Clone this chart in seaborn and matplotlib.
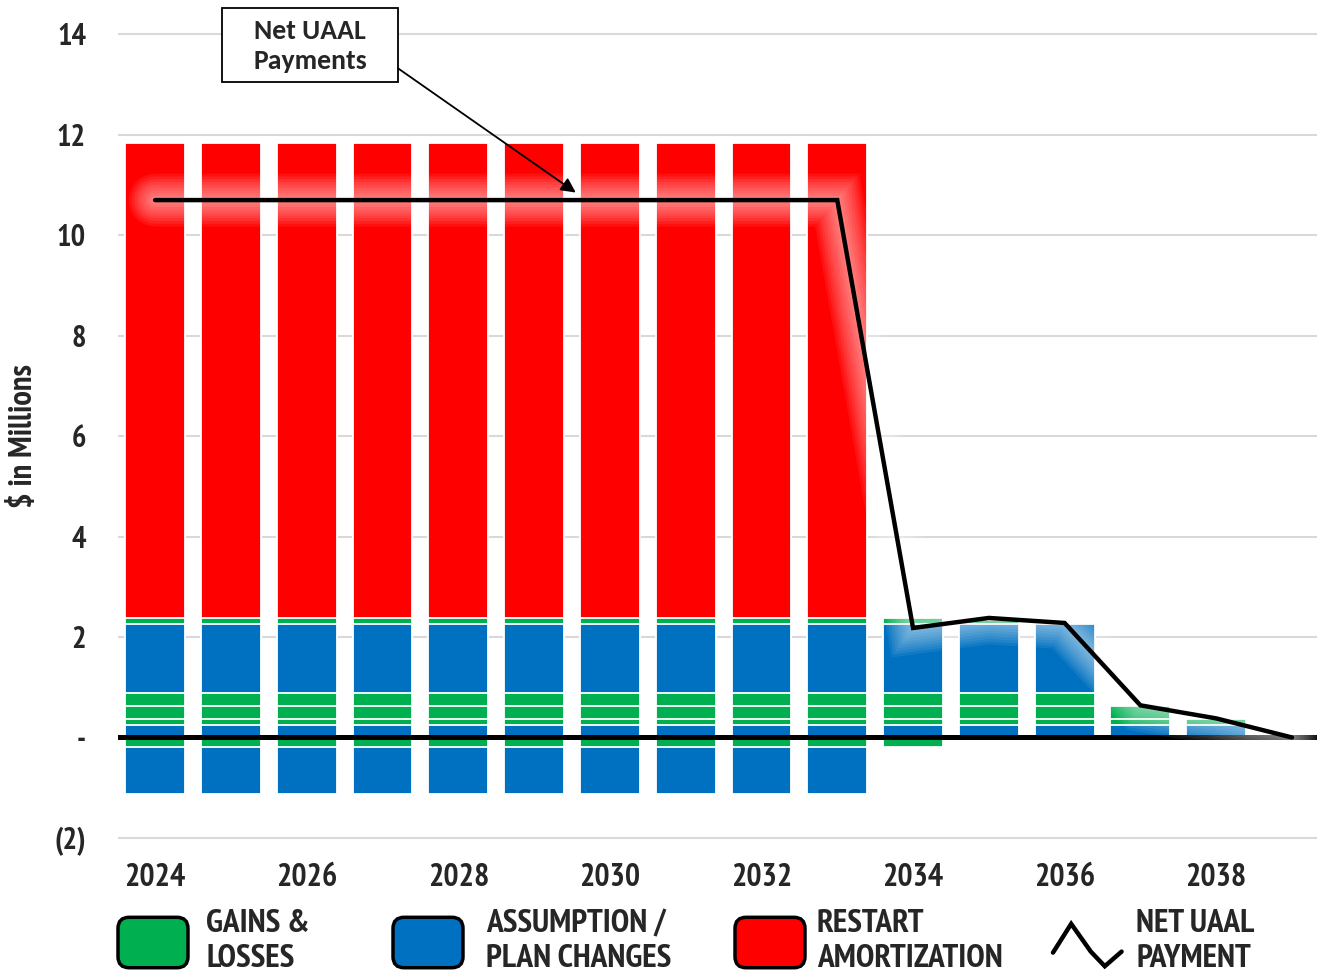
import numpy as np
import matplotlib
matplotlib.use('Agg')
import matplotlib.pyplot as plt
import matplotlib.patheffects as pe
from matplotlib.patches import Patch, FancyBboxPatch, Rectangle
from matplotlib.lines import Line2D
from matplotlib.legend_handler import HandlerPatch, HandlerBase
import seaborn as sns

sns.set_style('white')
NARROW = ['PT Sans Narrow', 'Liberation Sans', 'DejaVu Sans']
plt.rcParams['font.family'] = NARROW

# ---- data ($ millions) ----
years = [2024, 2025, 2026, 2027, 2028, 2029, 2030, 2031, 2032, 2033, 2034, 2035, 2036, 2037, 2038]
# positive stack, bottom to top
asm_base = [0.24, 0.24, 0.24, 0.24, 0.24, 0.24, 0.24, 0.24, 0.24, 0.24, 0.24, 0.24, 0.24, 0.24, 0.24]
gl_1 = [0.12, 0.12, 0.12, 0.12, 0.12, 0.12, 0.12, 0.12, 0.12, 0.12, 0.12, 0.12, 0.12, 0.12, 0.12]
gl_2 = [0.26, 0.26, 0.26, 0.26, 0.26, 0.26, 0.26, 0.26, 0.26, 0.26, 0.26, 0.26, 0.26, 0.26, 0.0]
gl_3 = [0.27, 0.27, 0.27, 0.27, 0.27, 0.27, 0.27, 0.27, 0.27, 0.27, 0.27, 0.27, 0.27, 0.0, 0.0]
asm_main = [1.36, 1.36, 1.36, 1.36, 1.36, 1.36, 1.36, 1.36, 1.36, 1.36, 1.36, 1.36, 1.36, 0.0, 0.0]
gl_top = [0.12, 0.12, 0.12, 0.12, 0.12, 0.12, 0.12, 0.12, 0.12, 0.12, 0.12, 0.08, 0.0, 0.0, 0.0]
restart = [9.46, 9.46, 9.46, 9.46, 9.46, 9.46, 9.46, 9.46, 9.46, 9.46, 0.0, 0.0, 0.0, 0.0, 0.0]
# negative stack, top to bottom
gl_neg = [-0.18, -0.18, -0.18, -0.18, -0.18, -0.18, -0.18, -0.18, -0.18, -0.18, -0.18, 0.0, 0.0, 0.0, 0.0]
asm_neg = [-0.95, -0.95, -0.95, -0.95, -0.95, -0.95, -0.95, -0.95, -0.95, -0.95, 0.0, 0.0, 0.0, 0.0, 0.0]

net_years = [2024, 2025, 2026, 2027, 2028, 2029, 2030, 2031, 2032, 2033, 2034, 2035, 2036, 2037, 2038, 2039]
net_uaal = [10.70, 10.70, 10.70, 10.70, 10.70, 10.70, 10.70, 10.70, 10.70, 10.70, 2.18, 2.38, 2.28, 0.64, 0.38, 0.0]

y_ticks = [-2, 0, 2, 4, 6, 8, 10, 12, 14]
y_labels = ['(2)', '-', '2', '4', '6', '8', '10', '12', '14']
x_ticks = [2024, 2026, 2028, 2030, 2032, 2034, 2036, 2038]

GREEN = '#00B050'
BLUE = '#0070C0'
RED = '#FF0000'
colors = {'gl': GREEN, 'asm': BLUE, 'red': RED}

fig = plt.figure(figsize=(13.17, 9.72), dpi=100)
ax = fig.add_axes([118 / 1317, 0.1276, 1 - 118 / 1317, 0.975 - 0.1276])


def draw_stack(layers, ax):
    # overlap cumulative bars, largest first, so each layer shows as a segment
    cum = np.cumsum([vals for _, vals in layers], axis=0)
    for i in reversed(range(len(layers))):
        sns.barplot(x=years, y=cum[i], native_scale=True, width=0.79,
                    color=colors[layers[i][0]], saturation=1, errorbar=None,
                    edgecolor='white', linewidth=1.3, ax=ax, zorder=2)


draw_stack([('asm', asm_base), ('gl', gl_1), ('gl', gl_2), ('gl', gl_3),
            ('asm', asm_main), ('gl', gl_top), ('red', restart)], ax)
draw_stack([('gl', gl_neg), ('asm', asm_neg)], ax)

ax.axhline(0, color='black', lw=3.6, zorder=3)

# soft white halo under the payment line
glow = [pe.Stroke(linewidth=w, foreground='white', alpha=0.07) for w in range(38, 4, -4)]
glow.append(pe.Normal())
sns.lineplot(x=net_years, y=net_uaal, color='black', lw=3.2, ax=ax, zorder=4,
             path_effects=glow, solid_joinstyle='miter')

# callout box
ax.add_patch(Rectangle((0.0867, 0.9296), 0.1468, 0.0898, transform=ax.transAxes,
                       fc='white', ec='black', lw=1.3, clip_on=False, zorder=6))
ax.text(0.1601, 0.9735, 'Net UAAL\nPayments', transform=ax.transAxes, ha='center', va='center',
        fontsize=20, fontweight='bold', family=['Carlito', 'Lato', 'DejaVu Sans'],
        linespacing=1.3, zorder=7)
ax.annotate('', xy=(2029.55, 10.85), xytext=(0.2335, 0.9466), textcoords='axes fraction',
            arrowprops=dict(arrowstyle='-|>', color='black', lw=1.3, shrinkA=0, shrinkB=0,
                            mutation_scale=22), zorder=6)

ax.set_xlim(2023.51, 2039.33)
ax.set_ylim(-2.2, 14.2)
ax.set_yticks(y_ticks)
ax.set_yticklabels(y_labels)
ax.set_xticks(x_ticks)
ax.set_xticklabels([str(t) for t in x_ticks])
ax.tick_params(axis='y', length=0, pad=23, labelsize=22)
ax.tick_params(axis='x', length=0, pad=11, labelsize=23)
for lab in ax.get_xticklabels() + ax.get_yticklabels():
    lab.set_fontweight('bold')
ax.set_xlabel('')
ax.set_ylabel('$ in Millions', fontsize=23.5, fontweight='bold')
ax.yaxis.set_label_coords(-0.066, 0.5)
ax.yaxis.grid(True, color='#d9d9d9', lw=1.5)
ax.set_axisbelow(True)
sns.despine(ax=ax, left=True, bottom=True)


def rounded_patch(legend, orig_handle, xdescent, ydescent, width, height, fontsize):
    return FancyBboxPatch((-xdescent, -ydescent), width, height,
                          boxstyle=f'round,pad=0,rounding_size={height * 0.22}')


class ZigzagHandler(HandlerBase):
    def create_artists(self, legend, orig_handle, xdescent, ydescent,
                       width, height, fontsize, trans):
        xs = np.array([0.0, 0.26, 0.54, 0.74, 0.98]) * width - xdescent
        ys = np.array([0.3, 0.87, 0.32, 0.03, 0.32]) * height - ydescent
        line = Line2D(xs, ys, color='black', lw=3.2, solid_joinstyle='miter')
        line.set_transform(trans)
        return [line]


legend_items = [
    (Patch(fc=GREEN, ec='black', lw=2.5), 'GAINS &\nLOSSES', 118, 0.55),
    (Patch(fc=BLUE, ec='black', lw=2.5), 'ASSUMPTION /\nPLAN CHANGES', 393, 0.7),
    (Patch(fc=RED, ec='black', lw=2.5), 'RESTART\nAMORTIZATION', 735, 0.35),
    (Line2D([], [], color='black', lw=3), 'NET UAAL\nPAYMENT', 1053, 0.4),
]
for handle, label, x0, tpad in legend_items:
    fig.legend([handle], [label], loc='lower left', bbox_to_anchor=(x0 / 1317, -0.002),
               frameon=False, handlelength=2.1, handleheight=1.95, handletextpad=tpad,
               borderpad=0, borderaxespad=0,
               prop=dict(family=NARROW, weight='bold', size=24),
               handler_map={Patch: HandlerPatch(patch_func=rounded_patch), Line2D: ZigzagHandler()})

fig.savefig('out.png', dpi=100)
